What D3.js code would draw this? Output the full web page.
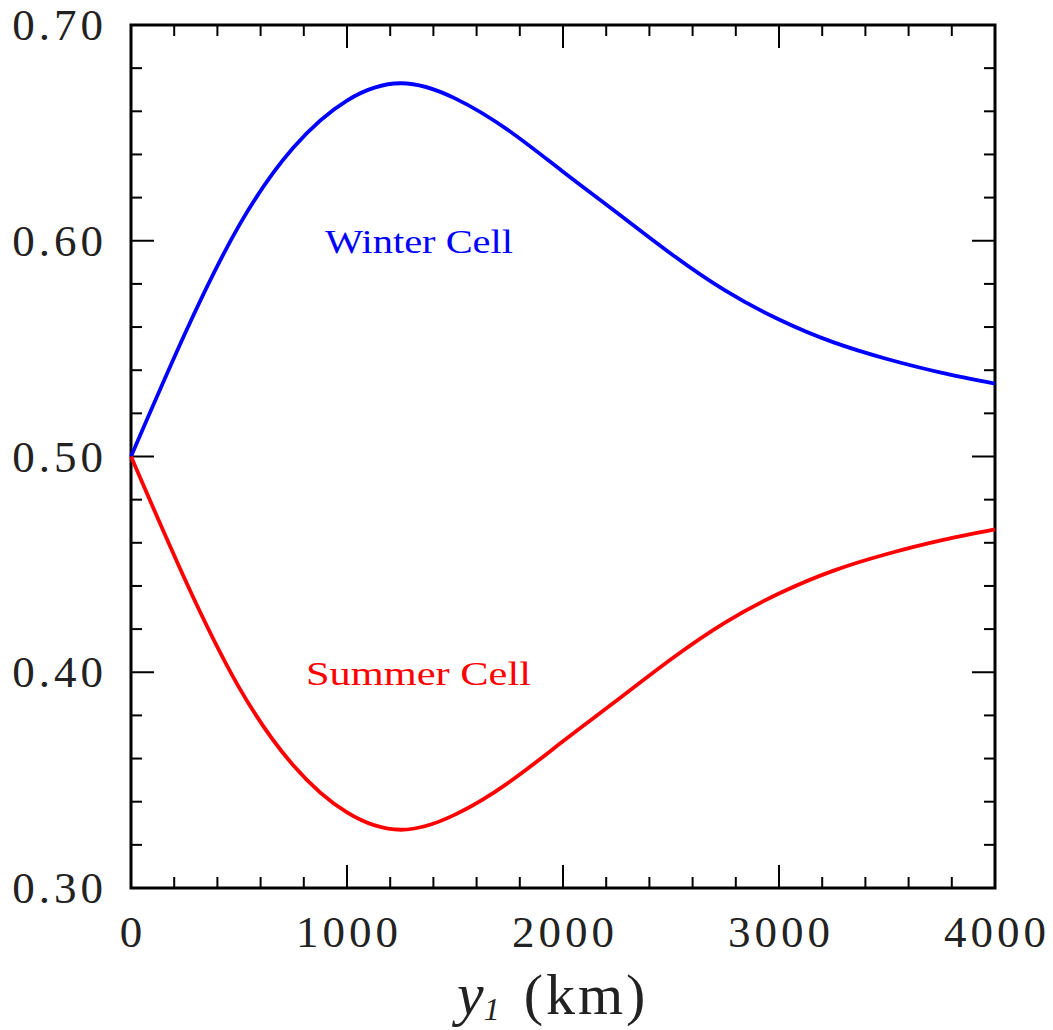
<!DOCTYPE html>
<html lang="en">
<head>
<meta charset="utf-8">
<title>Winter and Summer Cell</title>
<script src="https://d3js.org/d3.v7.min.js"></script>
<style type="text/css">
body { margin: 0; background: #fff; }
.ticklabel { font-family: "Liberation Serif", serif; font-size: 45px; letter-spacing: 4px; fill: #222; }
.frame { fill: none; stroke: #000; stroke-width: 3px; }
.tick { stroke: #000; stroke-width: 2px; }
.curve { fill: none; stroke-width: 3.8px; }
</style>
</head>
<body>
<div id="chart"></div>
<script type="text/javascript">
"use strict";

// distance y1 in km
var km = [0, 250, 500, 750, 1000, 1250, 1500, 1750, 2000, 2250, 2500, 2750, 3000, 3250, 3500, 3750, 4000];
var winter = [0.500, 0.557, 0.607, 0.643, 0.665, 0.673, 0.666, 0.651, 0.632, 0.613, 0.594, 0.577, 0.5635, 0.553, 0.5452, 0.5389, 0.5338];
var summer = [0.500, 0.443, 0.393, 0.357, 0.335, 0.327, 0.334, 0.349, 0.368, 0.387, 0.406, 0.423, 0.4365, 0.447, 0.4548, 0.4611, 0.4662];

var xMajor = [0, 1000, 2000, 3000, 4000];
var yMajor = [0.30, 0.40, 0.50, 0.60, 0.70];

var width = 1053, height = 1030;
var pLeft = 131, pRight = 995, pTop = 25, pBottom = 888;

var x = d3.scaleLinear().domain([0, 4000]).range([pLeft, pRight]);
var y = d3.scaleLinear().domain([0.30, 0.70]).range([pBottom, pTop]);

var svg = d3.select("#chart").append("svg")
    .attr("width", width)
    .attr("height", height);

// ticks on all four sides, pointing inward
var xMinor = d3.range(0, 4001, 200);
var yMinor = d3.range(30, 71, 2).map(function(d) { return d / 100; });
var isMajorX = function(d) { return d % 1000 === 0; };
var isMajorY = function(d) { return Math.abs(d * 10 - Math.round(d * 10)) < 1e-6; };

var g = svg.append("g");
xMinor.forEach(function(d) {
  var len = isMajorX(d) ? 23 : 11;
  g.append("line").attr("class", "tick")
    .attr("x1", x(d)).attr("x2", x(d)).attr("y1", pBottom).attr("y2", pBottom - len);
  g.append("line").attr("class", "tick")
    .attr("x1", x(d)).attr("x2", x(d)).attr("y1", pTop).attr("y2", pTop + len);
});
yMinor.forEach(function(d) {
  var len = isMajorY(d) ? 23 : 11;
  g.append("line").attr("class", "tick")
    .attr("y1", y(d)).attr("y2", y(d)).attr("x1", pLeft).attr("x2", pLeft + len);
  g.append("line").attr("class", "tick")
    .attr("y1", y(d)).attr("y2", y(d)).attr("x1", pRight).attr("x2", pRight - len);
});

svg.append("rect").attr("class", "frame")
    .attr("x", pLeft).attr("y", pTop)
    .attr("width", pRight - pLeft).attr("height", pBottom - pTop);

// tick labels
svg.selectAll(".xlab").data(xMajor).enter().append("text")
    .attr("class", "ticklabel")
    .attr("x", function(d) { return x(d) + 2; })
    .attr("y", 947)
    .attr("text-anchor", "middle")
    .text(function(d) { return d; });

svg.selectAll(".ylab").data(yMajor).enter().append("text")
    .attr("class", "ticklabel")
    .attr("x", 107)
    .attr("y", function(d) { return y(d) + 15; })
    .attr("text-anchor", "end")
    .text(function(d) { return d.toFixed(2); });

// curves
var line = d3.line()
    .x(function(d) { return x(d[0]); })
    .y(function(d) { return y(d[1]); })
    .curve(d3.curveNatural);

svg.append("path").attr("class", "curve")
    .attr("stroke", "#0000ff")
    .attr("d", line(d3.zip(km, winter)));
svg.append("path").attr("class", "curve")
    .attr("stroke", "#ff0000")
    .attr("d", line(d3.zip(km, summer)));

// curve labels
svg.append("text")
    .attr("x", 325).attr("y", 253)
    .attr("textLength", 188).attr("lengthAdjust", "spacingAndGlyphs")
    .style("font-family", "'Liberation Serif', serif")
    .style("font-size", "34px")
    .attr("fill", "#0000ff")
    .text("Winter Cell");

svg.append("text")
    .attr("x", 306).attr("y", 685)
    .attr("textLength", 225).attr("lengthAdjust", "spacingAndGlyphs")
    .style("font-family", "'Liberation Serif', serif")
    .style("font-size", "33px")
    .attr("fill", "#ff0000")
    .text("Summer Cell");

// axis title
var title = svg.append("text")
    .attr("x", 457).attr("y", 1014)
    .style("font-family", "'Liberation Serif', serif")
    .style("font-size", "58px")
    .attr("fill", "#222");
title.append("tspan").style("font-style", "italic").style("font-size", "60px").text("y");
title.append("tspan").style("font-style", "italic").style("font-size", "32px")
    .attr("dy", 6).text("1");
title.append("tspan").attr("dy", -6).attr("dx", 24)
    .style("letter-spacing", "3px").text("(km)");
</script>
</body>
</html>
